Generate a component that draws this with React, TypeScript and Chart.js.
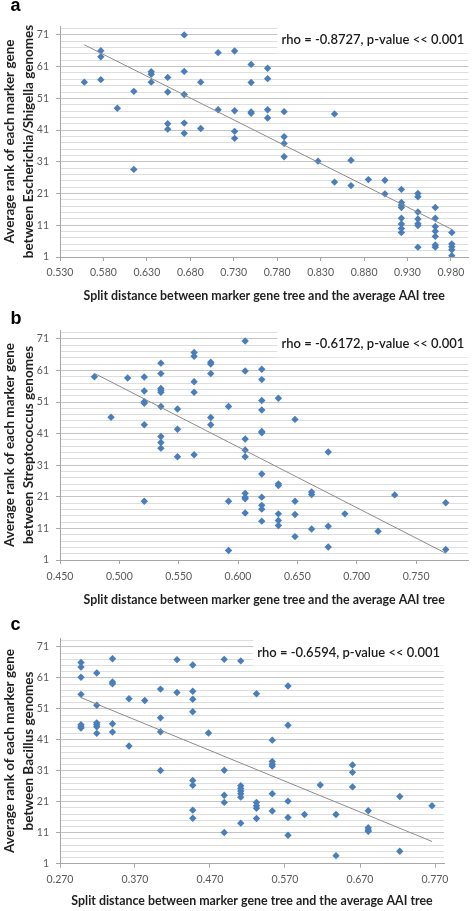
import React, { useEffect, useRef } from 'react';
import { Chart, registerables } from 'chart.js';

Chart.register(...registerables);

// ---------- shared axis values ----------
const Y_GRID = [1, 3, 5, 7, 9, 11, 13, 15, 17, 19, 21, 23, 25, 27, 29, 31, 33, 35, 37, 39, 41, 43, 45, 47, 49, 51, 53, 55, 57, 59, 61, 63, 65, 67, 69, 71, 73];
const Y_LABELED = [1, 11, 21, 31, 41, 51, 61, 71];
const X_TITLE = 'Split distance between marker gene tree and the average AAI tree';
const Y_TITLE_1 = 'Average rank of each marker gene';

// ---------- panel a : Escherichia/Shigella ----------
const A_SPLIT = [0.558, 0.577, 0.596, 0.615, 0.635, 0.654, 0.673, 0.692, 0.712, 0.731, 0.750, 0.769, 0.788, 0.827, 0.846, 0.865, 0.885, 0.904, 0.923, 0.942, 0.962, 0.981];
const A_RANKS = [
  [56.1],
  [66.0, 64.1, 56.9],
  [47.9],
  [53.2, 28.6],
  [59.4, 58.6, 56.1],
  [57.6, 53.0, 43.0, 41.3],
  [71.0, 59.5, 52.2, 43.2, 40.0],
  [56.1, 41.5],
  [65.4, 47.4],
  [65.9, 47.1, 40.6, 38.4],
  [61.7, 56.0, 46.7, 46.3],
  [60.5, 57.2, 47.4, 44.8],
  [46.8, 38.9, 36.8, 32.6],
  [31.2],
  [46.1, 24.6],
  [31.5, 23.5],
  [25.4],
  [25.2, 20.9],
  [22.3, 18.2, 17.4, 16.6, 13.2, 11.4, 10.0, 8.7],
  [21.0, 20.0, 15.2, 13.0, 11.5, 10.9, 4.1],
  [16.6, 13.2, 10.6, 9.1, 7.5, 4.8, 4.1],
  [8.7, 5.1, 4.2, 3.3, 1.4],
];
const A_XTICKS = [0.53, 0.58, 0.63, 0.68, 0.73, 0.78, 0.83, 0.88, 0.93, 0.98];
const A_GENOMES = 'between Escherichia/Shigella genomes';
const A_RHO = 'rho = -0.8727, p-value << 0.001';

// ---------- panel b : Streptococcus ----------
const B_SPLIT = [0.479, 0.493, 0.507, 0.521, 0.535, 0.549, 0.563, 0.577, 0.592, 0.606, 0.620, 0.634, 0.648, 0.662, 0.676, 0.690, 0.718, 0.732, 0.775];
const B_RANKS = [
  [59.0],
  [46.2],
  [58.6],
  [58.9, 54.5, 51.1, 50.6, 43.8, 19.6],
  [63.3, 60.0, 55.3, 54.7, 54.1, 49.6, 40.1, 38.2, 36.4],
  [48.8, 42.4, 33.7],
  [66.7, 65.5, 57.4, 54.1, 34.3],
  [63.6, 63.0, 60.0, 46.1, 43.8],
  [49.6, 19.6, 4.0],
  [70.3, 60.8, 39.3, 35.8, 33.7, 22.1, 20.9, 20.4, 15.9],
  [61.4, 58.1, 51.5, 48.5, 41.7, 41.3, 28.2, 20.9, 18.3, 17.1, 13.3],
  [52.2, 25.1, 24.6, 15.6, 13.5, 11.9],
  [45.5, 19.6, 15.4, 8.4],
  [22.5, 21.7, 10.8],
  [35.2, 11.7, 5.1],
  [15.6],
  [10.1],
  [21.6],
  [19.1, 4.3],
];
const B_XTICKS = [0.45, 0.5, 0.55, 0.6, 0.65, 0.7, 0.75];
const B_GENOMES = 'between Streptococcus genomes';
const B_RHO = 'rho = -0.6172, p-value << 0.001';

// ---------- panel c : Bacillus ----------
const C_SPLIT = [0.298, 0.319, 0.340, 0.362, 0.383, 0.404, 0.426, 0.447, 0.468, 0.489, 0.511, 0.532, 0.553, 0.574, 0.596, 0.617, 0.638, 0.660, 0.681, 0.723, 0.766];
const C_RANKS = [
  [66.0, 64.5, 61.2, 55.7, 45.9, 45.2, 44.8],
  [62.6, 52.2, 46.5, 45.9, 45.2, 43.1],
  [67.2, 59.7, 59.1, 46.2, 43.5],
  [54.3, 39.0],
  [53.7],
  [57.4, 48.1, 43.6, 31.1],
  [66.9, 56.3],
  [65.2, 56.7, 54.1, 50.1, 27.9, 26.3, 18.3, 15.7],
  [43.2],
  [67.0, 31.2, 23.1, 20.8, 11.1],
  [66.5, 26.2, 25.3, 24.5, 23.6, 22.5, 14.1],
  [55.9, 20.8, 19.7, 18.9, 15.6],
  [40.9, 34.0, 33.1, 32.5, 23.6, 18.0],
  [58.4, 45.7, 21.2, 15.9, 10.2],
  [16.9],
  [26.4],
  [16.9, 3.6],
  [32.9, 30.5, 25.8],
  [18.1, 12.6, 11.9, 11.5],
  [22.7, 5.0],
  [19.7],
];
const C_XTICKS = [0.27, 0.37, 0.47, 0.57, 0.67, 0.77];
const C_GENOMES = 'between Bacillus genomes';
const C_RHO = 'rho = -0.6594, p-value << 0.001';

// ---------- layout / style (kept apart from data) ----------
type PanelDef = {
  letter: string;
  split: number[];
  ranks: number[][];
  xticks: number[];
  genomes: string;
  rho: string;
  xmin: number;
  xmax: number;
  top: number;
  height: number;
  padTop: number;
  padRight: number;
  xAxisH: number;
  tickPad: number;
  titlePad: number;
  letterTop: number;
};

const PANELS: PanelDef[] = [
  { letter: 'a', split: A_SPLIT, ranks: A_RANKS, xticks: A_XTICKS, genomes: A_GENOMES, rho: A_RHO, xmin: 0.53, xmax: 1.0,
    top: 0, height: 306, padTop: 26, padRight: 2, xAxisH: 49, tickPad: 5.7, titlePad: 2.3, letterTop: -4 },
  { letter: 'b', split: B_SPLIT, ranks: B_RANKS, xticks: B_XTICKS, genomes: B_GENOMES, rho: B_RHO, xmin: 0.45, xmax: 0.794,
    top: 306, height: 304, padTop: 24, padRight: 2, xAxisH: 50, tickPad: 6.4, titlePad: 2.8, letterTop: 309 },
  { letter: 'c', split: C_SPLIT, ranks: C_RANKS, xticks: C_XTICKS, genomes: C_GENOMES, rho: C_RHO, xmin: 0.27, xmax: 0.782,
    top: 610, height: 301, padTop: 28.3, padRight: 28, xAxisH: 47.3, tickPad: 6, titlePad: 2.8, letterTop: 614.5 },
];

const POINT_COLOR = '#4a7ebb';
const TREND_COLOR = '#8c8c8c';
const GRID_MINOR = '#dedede';
const GRID_MAJOR = '#c4c4c4';
const AXIS_COLOR = '#a6a6a6';
const TICK_TEXT = '#595959';
const TITLE_TEXT = '#1f1f1f';

function leastSquares(pts: { x: number; y: number }[]) {
  const n = pts.length;
  let sx = 0, sy = 0, sxx = 0, sxy = 0;
  pts.forEach((p) => { sx += p.x; sy += p.y; sxx += p.x * p.x; sxy += p.x * p.y; });
  const slope = (n * sxy - sx * sy) / (n * sxx - sx * sx);
  const intercept = (sy - slope * sx) / n;
  return { slope, intercept };
}

const rhoBoxPlugin = {
  id: 'rhoBox',
  beforeDatasetsDraw(chart: any, _args: any, opts: any) {
    const { ctx, chartArea } = chart;
    if (!opts || !opts.text) return;
    ctx.save();
    ctx.font = '600 13px Lato';
    const w = ctx.measureText(opts.text).width;
    const right = chartArea.right - 4;
    const cy = chartArea.top + 14.3;
    ctx.fillStyle = '#ffffff';
    const bx = right - w - 4;
    ctx.fillRect(bx, chartArea.top - 1, chartArea.right - bx + 2, cy + 14 - chartArea.top);
    ctx.fillStyle = '#1a1a1a';
    ctx.textAlign = 'right';
    ctx.textBaseline = 'middle';
    ctx.fillText(opts.text, right, cy);
    ctx.restore();
  },
};

function Panel({ def }: { def: PanelDef }) {
  const ref = useRef<HTMLCanvasElement | null>(null);

  useEffect(() => {
    if (!ref.current) return;
    const points: { x: number; y: number }[] = [];
    def.split.forEach((x, i) => {
      def.ranks[i].forEach((y) => points.push({ x, y }));
    });
    const { slope, intercept } = leastSquares(points);
    const xs = points.map((p) => p.x);
    const x0 = Math.min(...xs);
    const x1 = Math.max(...xs);
    const trend = [
      { x: x0, y: intercept + slope * x0 },
      { x: x1, y: intercept + slope * x1 },
    ];
    const isMajor = (v: number) => Y_LABELED.includes(v);

    const chart = new Chart(ref.current, {
      type: 'scatter',
      data: {
        datasets: [
          {
            data: trend,
            showLine: true,
            borderColor: TREND_COLOR,
            borderWidth: 1,
            pointRadius: 0,
            pointHoverRadius: 0,
            fill: false,
          } as any,
          {
            data: points,
            pointStyle: 'rectRot',
            pointRadius: 3.7,
            pointHoverRadius: 3.7,
            backgroundColor: POINT_COLOR,
            borderColor: POINT_COLOR,
            borderWidth: 0,
            showLine: false,
          } as any,
        ],
      },
      options: {
        responsive: false,
        animation: false,
        events: [],
        layout: { padding: { top: def.padTop, right: def.padRight, bottom: 0, left: 0 } },
        plugins: {
          legend: { display: false },
          tooltip: { enabled: false },
          rhoBox: { text: def.rho },
        } as any,
        scales: {
          x: {
            type: 'linear',
            min: def.xmin,
            max: def.xmax,
            afterBuildTicks: (s: any) => { s.ticks = def.xticks.map((v) => ({ value: v })); },
            afterFit: (s: any) => { s.height = def.xAxisH; },
            ticks: {
              autoSkip: false,
              maxRotation: 0,
              padding: def.tickPad,
              color: TICK_TEXT,
              font: { family: 'Lato', size: 10.5 },
              callback: (v: any) => Number(v).toFixed(3),
            },
            grid: { drawOnChartArea: false, drawTicks: true, tickLength: 4, tickColor: AXIS_COLOR },
            border: { color: AXIS_COLOR, width: 1 },
            title: {
              display: true,
              text: X_TITLE,
              color: TITLE_TEXT,
              font: { family: 'Lato', size: 12.4, weight: 'bold', lineHeight: 1.2 },
              padding: { top: 0, bottom: def.titlePad },
            },
          },
          y: {
            type: 'linear',
            min: 1,
            max: 73.8,
            afterBuildTicks: (s: any) => { s.ticks = Y_GRID.map((v) => ({ value: v })); },
            afterFit: (s: any) => { s.width = 60; },
            ticks: {
              autoSkip: false,
              padding: 7,
              color: TICK_TEXT,
              font: { family: 'Lato', size: 10.5 },
              callback: (v: any) => (isMajor(Number(v)) ? String(v) : ''),
            },
            grid: {
              color: (c: any) => (c.tick && isMajor(c.tick.value) ? GRID_MAJOR : GRID_MINOR),
              tickColor: (c: any) => (c.tick && isMajor(c.tick.value) ? AXIS_COLOR : 'rgba(0,0,0,0)'),
              tickLength: 4,
              lineWidth: 1,
            },
            border: { color: AXIS_COLOR, width: 1 },
            title: {
              display: true,
              text: [Y_TITLE_1, def.genomes],
              color: TITLE_TEXT,
              font: { family: 'Lato', size: 13.5, weight: 'bold', lineHeight: 1.35 },
              padding: { top: 1, bottom: 0 },
            },
          },
        },
      } as any,
      plugins: [rhoBoxPlugin],
    });
    return () => chart.destroy();
  }, [def]);

  return (
    <canvas
      ref={ref}
      width={472}
      height={def.height}
      style={{ position: 'absolute', left: 0, top: def.top, width: 472, height: def.height }}
    />
  );
}

export default function App() {
  return (
    <div style={{ position: 'absolute', left: 0, top: 0, width: 472, height: 911, background: '#ffffff', overflow: 'hidden' }}>
      {PANELS.map((p) => (
        <Panel key={p.letter} def={p} />
      ))}
      {PANELS.map((p) => (
        <div
          key={'l' + p.letter}
          style={{
            position: 'absolute',
            left: 10.5,
            top: p.letterTop,
            fontFamily: '"Liberation Sans", Arial, sans-serif',
            fontWeight: 'bold',
            fontSize: 18,
            lineHeight: '18px',
            color: '#000',
          }}
        >
          {p.letter}
        </div>
      ))}
    </div>
  );
}
